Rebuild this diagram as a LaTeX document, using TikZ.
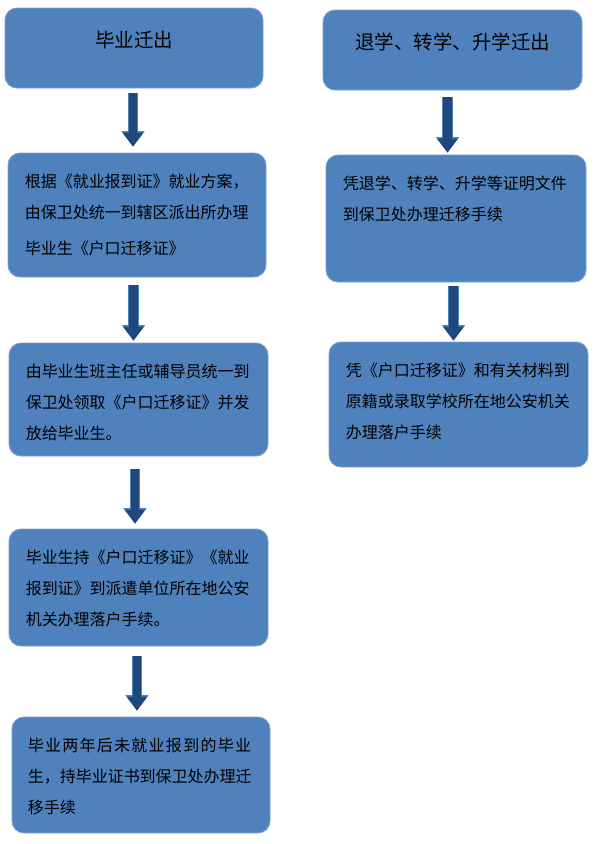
\documentclass[tikz,border=0pt]{standalone}
\usepackage{fontspec}
\setmainfont{Noto Sans CJK SC}
\usetikzlibrary{arrows.meta}

\definecolor{boxblue}{HTML}{4F81BD}
\definecolor{boxedge}{HTML}{7C9ECB}
\definecolor{arrowblue}{HTML}{1F497D}

\begin{document}
\begin{tikzpicture}[x=1pt,y=-1pt,
  stage/.style={draw=boxedge, line width=0.9pt, fill=boxblue, rounded corners=12pt, inner sep=0pt},
  title/.style={font=\fontsize{19.5}{22}\selectfont, inner sep=0pt},
  body/.style={font=\fontsize{16}{31}\selectfont, align=left, anchor=north west, inner sep=0pt},
  down/.style={line width=8.5pt, draw=arrowblue, -{Triangle[width=21pt,length=14pt,line width=0pt]},
    preaction={draw=boxblue, line width=10.5pt, -{Triangle[width=23.5pt,length=15.5pt,line width=0pt]}}}]

\useasboundingbox (0,0) rectangle (597,844);

\node [stage, minimum width=258pt, minimum height=80pt]  (l1) at (134,48) {};
\node [stage, minimum width=258pt, minimum height=124pt] (l2) at (137,215) {};
\node [stage, minimum width=259pt, minimum height=113pt] (l3) at (138.5,399.5) {};
\node [stage, minimum width=259pt, minimum height=117pt] (l4) at (138.5,587.5) {};
\node [stage, minimum width=258pt, minimum height=116pt] (l5) at (141,775) {};

\node [stage, minimum width=259pt, minimum height=80pt]  (r1) at (452.5,50) {};
\node [stage, minimum width=260pt, minimum height=127pt] (r2) at (456,218.5) {};
\node [stage, minimum width=259pt, minimum height=125pt] (r3) at (458.5,404.5) {};

\node [title] (l1t) at ([yshift=-33pt]l1.north) {毕业迁出};
\node [title] (r1t) at ([yshift=-32pt]r1.north) {退学、转学、升学迁出};

\node [body] (l2t) at ([xshift=17pt,yshift=-21.5pt]l2.north west)
  {根据《就业报到证》就业方案，\\由保卫处统一到辖区派出所办理\\[5pt]毕业生《户口迁移证》};
\node [body] (l3t) at ([xshift=17pt,yshift=-21.5pt]l3.north west)
  {由毕业生班主任或辅导员统一到\\保卫处领取《户口迁移证》并发\\放给毕业生。};
\node [body] (l4t) at ([xshift=17pt,yshift=-21.5pt]l4.north west)
  {毕业生持《户口迁移证》《就业\\报到证》到派遣单位所在地公安\\机关办理落户手续。};
\node [body] (l5t) at ([xshift=16pt,yshift=-21.5pt]l5.north west)
  {{\addfontfeature{LetterSpace=8}毕业两年后未就业报到的毕业}\\生，持毕业证书到保卫处办理迁\\移手续};
\node [body] (r2t) at ([xshift=17pt,yshift=-21.5pt]r2.north west)
  {凭退学、转学、升学等证明文件\\到保卫处办理迁移手续};
\node [body] (r3t) at ([xshift=17pt,yshift=-21.5pt]r3.north west)
  {凭《户口迁移证》和有关材料到\\原籍或录取学校所在地公安机关\\办理落户手续};

\foreach \a/\b/\x/\s/\e in {l1/l2/-1pt/5pt/6pt, l2/l3/-3.5pt/8pt/2pt, l3/l4/-3.5pt/13pt/5pt,
    l4/l5/-1.5pt/10pt/6pt, r1/r2/-5pt/7pt/2pt, r2/r3/-2.5pt/4pt/1pt}{
   \coordinate (from) at ([xshift=\x]\a.south);
   \draw [down, shorten <=\s, shorten >=\e] (from) -- (from |- \b.north);
}

\end{tikzpicture}
\end{document}
